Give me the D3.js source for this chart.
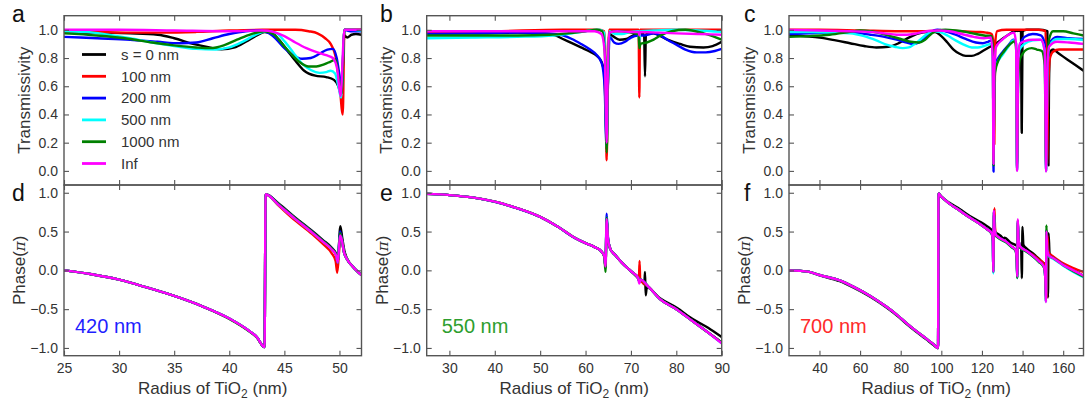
<!DOCTYPE html>
<html><head><meta charset="utf-8">
<script src="https://cdn.jsdelivr.net/npm/d3@7"></script>
<style>body{margin:0;background:#fff} text{font-family:"Liberation Sans",Arial,sans-serif}</style>
</head><body><svg id="c" width="1086" height="405"></svg>
<script>
// ---------- DATA ----------
const seriesNames = ["s = 0 nm","100 nm","200 nm","500 nm","1000 nm","Inf"];
const wavelengthLabels = ["420 nm","550 nm","700 nm"];
const xTicksA = [25,30,35,40,45,50];
const xTicksB = [30,40,50,60,70,80,90];
const xTicksC = [40,60,80,100,120,140,160];
const transTicks = [0,0.2,0.4,0.6,0.8,1.0];
const phaseTicks = [-1,-0.5,0,0.5,1];

// Panel a: transmissivity, 420 nm
const aK = [[25,0.98],[28,0.98],[31,0.975],[33.5,0.965],[35,0.94],[36.7,0.9],[38.2,0.875],[39.3,0.862],[40.5,0.875],[41.5,0.915],[42.5,0.96],[43.2,0.985],[43.8,0.98],[44.5,0.93],[45.3,0.85],[46,0.78],[46.8,0.71],[47.8,0.675],[48.8,0.665],[49.5,0.645],[49.9,0.6],[50.15,0.54],[50.45,0.96],[50.7,0.945],[51.1,0.965],[51.5,0.97],[52,0.965]];
const aR = [[25,0.99],[28,0.985],[31,0.98],[34,0.98],[37,0.985],[40,0.995],[43,1.0],[46,1.0],[47.2,0.99],[48,0.975],[48.7,0.94],[49.2,0.9],[49.7,0.79],[50,0.62],[50.3,0.40],[50.45,1.0],[51,1.0],[52,1.0]];
const aB = [[25,0.95],[28,0.94],[31,0.93],[33.5,0.915],[35.5,0.905],[37,0.91],[38.5,0.94],[40,0.97],[41.5,0.99],[42.8,0.995],[43.6,0.975],[44.3,0.93],[45,0.87],[45.8,0.82],[46.6,0.795],[47.4,0.8],[48.2,0.83],[48.9,0.86],[49.4,0.865],[49.75,0.8],[50,0.68],[50.2,0.58],[50.45,1.0],[51,0.99],[52,0.99]];
const aC = [[25,0.99],[27,0.985],[29,0.965],[31,0.94],[33,0.91],[35,0.885],[37,0.865],[38.8,0.86],[40,0.875],[41.2,0.915],[42.3,0.96],[43.3,0.99],[44.2,0.98],[45,0.92],[45.8,0.84],[46.6,0.76],[47.4,0.715],[48.2,0.695],[48.8,0.7],[49.2,0.71],[49.6,0.69],[49.9,0.6],[50.15,0.52],[50.45,1.0],[51,1.0],[52,0.995]];
const aG = [[25,0.975],[28,0.96],[31,0.935],[33,0.91],[35,0.89],[37,0.875],[38.3,0.87],[39.5,0.89],[40.7,0.93],[42,0.97],[43.2,0.99],[44,0.97],[44.8,0.9],[45.6,0.83],[46.4,0.77],[47.2,0.74],[47.9,0.74],[48.6,0.755],[49.2,0.775],[49.65,0.79],[49.9,0.68],[50.2,0.55],[50.45,1.0],[51,1.0],[52,1.0]];
const aM = [[25,1.0],[30,1.0],[35,0.995],[40,0.99],[43,0.995],[44,0.985],[45,0.955],[46,0.91],[47,0.87],[48,0.84],[48.8,0.82],[49.4,0.8],[49.8,0.72],[50.1,0.53],[50.45,1.0],[51,1.0],[52,1.0]];

// Panel b: transmissivity, 550 nm
const bK = [[25,0.975],[35,0.975],[45,0.98],[51,0.975],[53.3,0.96],[55,0.935],[57,0.905],[59,0.875],[61,0.845],[62.5,0.815],[63.5,0.775],[64.1,0.7],[64.45,0.4],[64.65,0.15],[64.85,0.5],[65.2,0.97],[66,0.955],[67.5,0.93],[69,0.935],[70.5,0.96],[72,0.97],[72.9,0.97],[73.1,0.67],[73.3,0.97],[75,0.975],[76.5,0.955],[78.5,0.925],[80.8,0.9],[83,0.88],[86,0.875],[88,0.885],[90,0.915]];
const bR = [[25,0.985],[40,0.99],[55,1.0],[63,1.0],[64.1,0.99],[64.4,0.8],[64.65,0.075],[64.9,0.6],[65.2,1.0],[70,1.0],[71.7,1.0],[71.85,0.52],[72.0,1.0],[80,1.0],[90,1.0]];
const bB = [[25,0.97],[35,0.975],[45,0.98],[52,0.975],[55,0.96],[57,0.935],[59,0.9],[61,0.86],[62.5,0.82],[63.6,0.76],[64.2,0.6],[64.6,0.18],[64.85,0.5],[65.3,0.95],[66.3,0.91],[67.3,0.9],[68.7,0.915],[70,0.945],[71.5,0.96],[73,0.96],[75,0.975],[76.5,0.96],[78,0.93],[80,0.895],[82,0.86],[84.5,0.84],[86.5,0.84],[88.5,0.85],[90,0.865]];
const bC = [[25,0.94],[35,0.945],[45,0.95],[53,0.96],[57,0.975],[60,0.99],[63,1.0],[64.1,0.98],[64.4,0.7],[64.65,0.17],[64.9,0.6],[65.3,0.99],[66.5,0.97],[68,0.97],[70,0.985],[71.7,0.99],[71.85,0.9],[72,0.99],[75,0.995],[80,1.0],[85,0.995],[90,0.985]];
const bG = [[25,0.96],[35,0.96],[45,0.96],[52,0.965],[56,0.975],[60,0.99],[62.5,1.0],[63.7,0.99],[64.3,0.8],[64.65,0.13],[64.9,0.6],[65.3,0.98],[66.5,0.99],[68,0.99],[70,0.98],[71.7,0.97],[71.85,0.87],[72.1,0.9],[73.5,0.91],[75,0.93],[76.5,0.96],[79,0.99],[82,1.0],[86,0.975],[88,0.955],[90,0.93]];
const bM = [[25,0.99],[40,0.99],[55,0.99],[62,0.99],[63.5,0.97],[64.2,0.85],[64.5,0.4],[64.65,0.2],[64.85,0.6],[65.2,0.98],[67,0.99],[70,0.985],[71.7,0.985],[71.85,0.96],[72,0.985],[76,0.98],[80,0.975],[85,0.97],[90,0.965]];

// Panel c: transmissivity, 700 nm
const cK = [[25,0.965],[32,0.955],[40,0.945],[48,0.925],[55,0.905],[62,0.885],[68,0.875],[74,0.88],[79,0.905],[84,0.945],[89,0.975],[93,0.985],[97,0.985],[100,0.955],[103,0.91],[106,0.86],[109,0.83],[112,0.815],[115,0.815],[118,0.83],[121,0.855],[124,0.88],[127,0.905],[130,0.935],[133,0.965],[136,0.99],[139.2,0.995],[139.6,0.27],[140.0,0.99],[142,1.0],[148,1.0],[152.2,0.99],[152.45,0.5],[152.75,0.04],[153.0,0.6],[153.5,0.84],[155,0.86],[158,0.83],[162,0.79],[166,0.75],[170,0.71]];
const cR = [[25,1.0],[40,1.0],[60,0.995],[80,0.99],[90,0.99],[100,0.995],[110,0.99],[118,0.985],[122,0.98],[124.8,0.97],[125.7,0.9],[126.1,0.19],[126.5,0.9],[127.5,0.99],[132,1.0],[140,1.0],[148,1.0],[151.3,0.99],[151.8,0.5],[152.1,0.05],[152.5,0.5],[153.5,0.8],[155,0.845],[158,0.86],[170,0.86]];
const cB = [[25,0.97],[35,0.975],[45,0.98],[55,0.98],[65,0.965],[72,0.95],[78,0.93],[83,0.91],[86,0.9],[89,0.91],[92,0.945],[95,0.985],[98,1.0],[102,0.99],[107,0.965],[112,0.935],[117,0.91],[120.5,0.905],[123,0.915],[124.8,0.925],[125.4,0.85],[125.7,-0.005],[126.0,0.6],[126.5,0.75],[128,0.8],[130,0.84],[133,0.89],[135.5,0.93],[136.8,0.9],[137.3,0.005],[137.8,0.7],[138.5,0.88],[141,0.95],[145,0.97],[149,0.96],[150.9,0.9],[151.6,0.0],[152.2,0.7],[153,0.9],[157,0.95],[163,0.94],[170,0.935]];
const cC = [[25,0.985],[35,0.985],[45,0.98],[55,0.975],[62,0.955],[68,0.925],[73,0.895],[77,0.88],[81,0.87],[84,0.875],[87,0.9],[90,0.935],[93,0.97],[96,0.99],[99,0.985],[103,0.96],[107,0.925],[111,0.895],[115,0.875],[118,0.875],[121,0.885],[124.8,0.9],[125.4,0.8],[125.7,0.05],[126.0,0.55],[126.5,0.72],[128,0.78],[130,0.82],[133,0.88],[135.5,0.925],[136.8,0.9],[137.3,0.01],[137.8,0.7],[138.5,0.86],[141,0.9],[145,0.925],[149,0.93],[150.9,0.85],[151.6,0.0],[152.2,0.65],[153,0.88],[157,0.935],[163,0.935],[170,0.93]];
const cG = [[25,0.95],[35,0.955],[45,0.965],[55,0.985],[60,0.995],[65,0.99],[70,0.975],[75,0.955],[80,0.935],[85,0.915],[89,0.91],[92,0.93],[95,0.97],[98,0.995],[102,1.0],[107,0.995],[112,0.985],[117,0.97],[121,0.96],[124.8,0.955],[125.4,0.85],[125.7,0.04],[126.0,0.5],[126.5,0.7],[128,0.78],[131,0.85],[134,0.9],[136.2,0.92],[136.9,0.85],[137.3,0.02],[137.8,0.6],[138.5,0.78],[140,0.83],[142,0.86],[144.5,0.87],[147,0.86],[149.5,0.85],[150.9,0.75],[151.6,0.01],[152.2,0.7],[153,0.93],[155,0.99],[160,0.99],[165,0.975],[170,0.96]];
const cM = [[25,1.0],[40,0.995],[55,0.99],[65,0.985],[72,0.975],[78,0.965],[83,0.965],[88,0.975],[93,0.99],[98,0.995],[104,0.99],[110,0.97],[116,0.95],[121,0.94],[124.4,0.945],[125.3,0.8],[125.7,0.05],[126.1,0.7],[127,0.88],[130,0.93],[133,0.965],[135.8,0.98],[136.8,0.9],[137.3,0.0],[137.8,0.75],[138.6,0.9],[141,0.92],[145,0.93],[149,0.93],[150.9,0.85],[151.6,-0.005],[152.2,0.7],[153,0.88],[157,0.915],[163,0.91],[170,0.9]];

// Panel d: phase, 420 nm
const dK = [[25,0],[27.5,-0.05],[30,-0.12],[32.5,-0.22],[35,-0.33],[37.5,-0.46],[40,-0.62],[41.5,-0.75],[42.5,-0.86],[43.2,-0.99],[43.3,0.98],[44.5,0.86],[46,0.68],[47.5,0.51],[48.5,0.39],[49.3,0.29],[49.7,0.21],[49.85,0.12],[50.08,0.57],[50.25,0.42],[50.45,0.25],[50.7,0.15],[51.2,0.05],[51.6,-0.01],[52,-0.06]];
const dR = [[25,0],[27.5,-0.05],[30,-0.12],[32.5,-0.22],[35,-0.33],[37.5,-0.46],[40,-0.62],[41.5,-0.75],[42.5,-0.86],[43.2,-0.99],[43.3,0.98],[44.5,0.83],[46,0.64],[47.5,0.47],[48.5,0.34],[49.3,0.22],[49.65,0.12],[49.8,-0.03],[50.0,0.3],[50.15,0.42],[50.4,0.24],[50.7,0.14],[51.2,0.05],[51.6,-0.01],[52,-0.06]];
const dB = [[25,0],[27.5,-0.05],[30,-0.12],[32.5,-0.22],[35,-0.33],[37.5,-0.46],[40,-0.62],[41.5,-0.75],[42.5,-0.86],[43.2,-0.99],[43.3,0.98],[44.5,0.85],[46,0.67],[47.5,0.5],[48.5,0.38],[49.3,0.28],[49.7,0.2],[49.85,0.1],[50.05,0.5],[50.2,0.41],[50.4,0.24],[50.7,0.14],[51.2,0.05],[51.6,-0.01],[52,-0.06]];
const dC = [[25,0],[27.5,-0.05],[30,-0.12],[32.5,-0.22],[35,-0.33],[37.5,-0.46],[40,-0.62],[41.5,-0.75],[42.5,-0.86],[43.2,-0.99],[43.3,0.98],[44.5,0.84],[46,0.66],[47.5,0.49],[48.5,0.37],[49.3,0.27],[49.7,0.19],[49.85,0.1],[50.05,0.46],[50.2,0.4],[50.4,0.24],[50.7,0.14],[51.2,0.05],[51.6,-0.01],[52,-0.06]];
const dG = [[25,0],[27.5,-0.05],[30,-0.12],[32.5,-0.22],[35,-0.33],[37.5,-0.46],[40,-0.625],[41.5,-0.755],[42.5,-0.865],[43.2,-0.99],[43.3,0.98],[44.5,0.85],[46,0.67],[47.5,0.5],[48.5,0.38],[49.3,0.28],[49.7,0.2],[49.85,0.1],[50.05,0.48],[50.2,0.41],[50.4,0.24],[50.7,0.14],[51.2,0.05],[51.6,-0.01],[52,-0.06]];
const dM = [[25,0],[27.5,-0.05],[30,-0.12],[32.5,-0.22],[35,-0.33],[37.5,-0.46],[40,-0.62],[41.5,-0.75],[42.5,-0.86],[43.2,-0.99],[43.3,0.98],[44.5,0.84],[46,0.66],[47.5,0.49],[48.5,0.37],[49.3,0.27],[49.7,0.19],[49.85,0.1],[50.05,0.45],[50.2,0.4],[50.4,0.24],[50.7,0.14],[51.2,0.05],[51.6,-0.01],[52,-0.06]];

// Panel e: phase, 550 nm
const eK = [[25,0.985],[30,0.97],[35,0.94],[40,0.885],[45,0.8],[50,0.69],[54,0.56],[57.3,0.43],[60,0.35],[62,0.3],[63.4,0.25],[64.15,0.18],[64.4,0.04],[64.65,0.66],[64.95,0.4],[65.5,0.27],[66.5,0.2],[68,0.1],[70,-0.01],[71.6,-0.1],[72.5,-0.14],[72.95,-0.18],[73.1,-0.02],[73.25,-0.32],[73.5,-0.22],[76.4,-0.36],[80,-0.48],[83.7,-0.63],[87,-0.74],[90,-0.86]];
const eR = [[25,0.985],[30,0.97],[35,0.94],[40,0.885],[45,0.8],[50,0.69],[54,0.56],[57.3,0.43],[60,0.35],[62,0.3],[63.4,0.25],[64.15,0.18],[64.4,0.03],[64.65,0.66],[64.95,0.4],[65.5,0.27],[66.5,0.2],[68,0.1],[70,-0.01],[71.6,-0.1],[71.75,-0.13],[71.9,0.12],[72.05,-0.13],[72.4,-0.15],[74,-0.22],[76.4,-0.37],[80,-0.5],[83.7,-0.66],[87,-0.8],[90,-0.93]];
const eB = [[25,0.985],[30,0.97],[35,0.94],[40,0.883],[45,0.798],[50,0.688],[54,0.558],[57.3,0.428],[60,0.35],[62,0.3],[63.4,0.25],[64.15,0.18],[64.4,0.05],[64.65,0.73],[64.95,0.42],[65.5,0.27],[66.5,0.2],[68,0.1],[70,-0.01],[71.6,-0.1],[71.85,-0.15],[72.1,-0.12],[74,-0.22],[76.4,-0.37],[80,-0.5],[83.7,-0.66],[87,-0.8],[90,-0.93]];
const eC = [[25,0.985],[30,0.97],[35,0.94],[40,0.885],[45,0.8],[50,0.69],[54,0.56],[57.3,0.43],[60,0.35],[62,0.3],[63.4,0.25],[64.15,0.18],[64.4,0.03],[64.65,0.68],[64.95,0.4],[65.5,0.27],[66.5,0.2],[68,0.1],[70,-0.01],[71.6,-0.1],[71.85,-0.14],[72.1,-0.12],[74,-0.22],[76.4,-0.37],[80,-0.5],[83.7,-0.66],[87,-0.8],[90,-0.94]];
const eG = [[25,0.985],[30,0.97],[35,0.94],[40,0.885],[45,0.8],[50,0.69],[54,0.56],[57.3,0.43],[60,0.35],[62,0.3],[63.4,0.25],[64.15,0.17],[64.4,-0.02],[64.65,0.68],[64.95,0.4],[65.5,0.27],[66.5,0.2],[68,0.1],[70,-0.01],[71.6,-0.1],[71.85,-0.14],[72.1,-0.12],[74,-0.22],[76.4,-0.37],[80,-0.5],[83.7,-0.66],[87,-0.8],[90,-0.93]];
const eM = [[25,0.985],[30,0.97],[35,0.94],[40,0.885],[45,0.8],[50,0.69],[54,0.56],[57.3,0.43],[60,0.35],[62,0.3],[63.4,0.25],[64.15,0.18],[64.4,0.05],[64.65,0.66],[64.95,0.4],[65.5,0.27],[66.5,0.2],[68,0.1],[70,-0.01],[71.6,-0.1],[71.85,-0.17],[72.1,-0.12],[74,-0.22],[76.4,-0.37],[80,-0.5],[83.7,-0.66],[87,-0.8],[90,-0.94]];

// Panel f: phase, 700 nm
const fK = [[25,0],[30,-0.005],[35,-0.02],[40,-0.065],[50,-0.14],[56.6,-0.22],[65,-0.34],[73,-0.48],[78,-0.58],[82.8,-0.69],[88,-0.8],[92.6,-0.89],[96,-0.96],[98.4,-1.0],[98.6,0.99],[100,0.95],[104,0.87],[109,0.79],[114,0.7],[118.8,0.63],[122.5,0.57],[126,0.5],[129,0.45],[130.8,0.41],[131.2,0.42],[134,0.36],[137,0.32],[139.3,0.28],[139.65,-0.1],[139.95,0.56],[140.4,0.33],[142,0.28],[145,0.22],[148,0.15],[150.5,0.09],[152.2,0.04],[152.5,-0.35],[152.8,0.48],[153.3,0.22],[155,0.17],[160,0.07],[165,0.0],[170,-0.07]];
const fR = [[25,0],[30,-0.005],[35,-0.02],[40,-0.06],[50,-0.13],[56.6,-0.21],[65,-0.33],[73,-0.47],[78,-0.57],[82.8,-0.68],[88,-0.79],[92.6,-0.88],[96,-0.95],[98.4,-1.0],[98.6,0.99],[100,0.95],[104,0.86],[109,0.77],[114,0.68],[118.8,0.6],[122.5,0.53],[124.8,0.48],[125.6,0.42],[125.9,0.35],[126.15,0.8],[126.45,0.55],[127,0.46],[128,0.43],[131.9,0.37],[134.5,0.31],[136.6,0.26],[137.15,0.12],[137.4,-0.06],[137.65,0.64],[138.0,0.4],[139,0.3],[142,0.25],[145,0.2],[148,0.14],[150.5,0.08],[151.6,-0.05],[151.9,-0.35],[152.2,0.45],[152.6,0.28],[153,0.22],[155,0.18],[160,0.09],[165,0.03],[170,-0.02]];
const fB = [[25,0],[30,-0.005],[35,-0.02],[40,-0.06],[50,-0.13],[56.6,-0.21],[65,-0.33],[73,-0.47],[78,-0.57],[82.8,-0.68],[88,-0.79],[92.6,-0.88],[96,-0.95],[98.4,-1.0],[98.6,0.99],[100,0.95],[104,0.86],[109,0.77],[114,0.68],[118.8,0.6],[122.5,0.53],[124.8,0.48],[125.35,0.38],[125.6,-0.03],[125.85,0.76],[126.2,0.55],[126.8,0.46],[128,0.43],[131.9,0.37],[134.5,0.31],[136.6,0.26],[137.15,0.12],[137.4,-0.09],[137.65,0.64],[138.0,0.4],[139,0.3],[142,0.25],[145,0.19],[148,0.12],[150.5,0.05],[151.2,-0.1],[151.5,-0.4],[151.75,0.52],[152.1,0.27],[153,0.19],[155,0.16],[160,0.07],[165,-0.01],[170,-0.08]];
const fC = [[25,0],[30,-0.005],[35,-0.02],[40,-0.06],[50,-0.13],[56.6,-0.21],[65,-0.33],[73,-0.47],[78,-0.57],[82.8,-0.68],[88,-0.79],[92.6,-0.88],[96,-0.95],[98.4,-1.0],[98.6,0.99],[100,0.95],[104,0.86],[109,0.77],[114,0.68],[118.8,0.6],[122.5,0.53],[124.8,0.47],[125.35,0.37],[125.6,-0.04],[125.85,0.75],[126.2,0.55],[126.8,0.45],[128,0.42],[131.9,0.36],[134.5,0.3],[136.6,0.25],[137.15,0.1],[137.4,-0.1],[137.65,0.63],[138.0,0.39],[139,0.29],[142,0.24],[145,0.18],[148,0.11],[150.5,0.04],[151.2,-0.1],[151.5,-0.4],[151.75,0.5],[152.1,0.26],[153,0.18],[155,0.15],[160,0.06],[165,-0.02],[170,-0.09]];
const fG = [[25,0],[30,-0.005],[35,-0.02],[40,-0.06],[50,-0.13],[56.6,-0.21],[65,-0.33],[73,-0.47],[78,-0.57],[82.8,-0.68],[88,-0.79],[92.6,-0.88],[96,-0.95],[98.4,-1.0],[98.6,0.99],[100,0.95],[104,0.86],[109,0.77],[114,0.68],[118.8,0.6],[122.5,0.53],[124.8,0.47],[125.35,0.38],[125.6,-0.02],[125.85,0.75],[126.2,0.55],[126.8,0.45],[128,0.42],[131.9,0.36],[134.5,0.3],[136.6,0.25],[137.15,0.1],[137.4,-0.1],[137.65,0.62],[138.0,0.39],[139,0.29],[142,0.24],[145,0.18],[148,0.11],[150.5,0.04],[151.2,-0.1],[151.5,-0.38],[151.75,0.58],[152.1,0.27],[153,0.19],[155,0.16],[160,0.07],[165,-0.01],[170,-0.08]];
const fM = [[25,0],[30,-0.005],[35,-0.02],[40,-0.06],[50,-0.13],[56.6,-0.21],[65,-0.33],[73,-0.47],[78,-0.57],[82.8,-0.68],[88,-0.79],[92.6,-0.88],[96,-0.95],[98.4,-1.0],[98.6,0.99],[100,0.95],[104,0.86],[109,0.77],[114,0.68],[118.8,0.6],[122.5,0.53],[124.8,0.48],[125.35,0.38],[125.6,-0.02],[125.85,0.77],[126.2,0.55],[126.8,0.46],[128,0.43],[131.9,0.37],[134.5,0.31],[136.6,0.26],[137.15,0.12],[137.4,-0.08],[137.65,0.66],[138.0,0.4],[139,0.3],[142,0.25],[145,0.19],[148,0.12],[150.5,0.05],[151.2,-0.1],[151.5,-0.41],[151.75,0.5],[152.1,0.27],[153,0.19],[155,0.16],[160,0.07],[165,0.0],[170,-0.07]];

// ---------- STYLE / LAYOUT ----------
const colors = ["#000000","#ff0000","#0000ff","#00ffff","#008000","#ff00ff"];
const wlColors = ["#1f1fff","#2e9e2e","#ff2a2a"];
const frameColor = "#555";
const textColor = "#333";

const svg = d3.select("#c");
const defs = svg.append("defs");
const cols = [{x0:64,x1:361.5},{x0:426.7,x1:721.7},{x0:789,x1:1083.5}];
const rows = [{y0:15.7,y1:185},{y0:185,y1:355.7}];
const xDomains = [[25,52],[25,90],[25,170]];
const xTickSets = [xTicksA,xTicksB,xTicksC];
const transSets = [[aK,aR,aB,aC,aG,aM],[bK,bR,bB,bC,bG,bM],[cK,cR,cB,cC,cG,cM]];
const phaseSets = [[dK,dR,dB,dC,dG,dM],[eK,eR,eB,eC,eG,eM],[fK,fR,fB,fC,fG,fM]];
const letters = [["a","d"],["b","e"],["c","f"]];
const letterX = [12,380,744];
const fmt = d3.format(".1f");

function styleAxis(g){
  g.select(".domain").remove();
  g.selectAll(".tick line").attr("stroke",frameColor).attr("stroke-width",1.1);
  g.selectAll(".tick text").attr("fill",textColor).attr("font-size",14).attr("font-family",'"Liberation Sans",Arial,sans-serif');
}

cols.forEach((c,ci)=>{
  const x = d3.scaleLinear().domain(xDomains[ci]).range([c.x0,c.x1]);
  [0,1].forEach(ri=>{
    const r = rows[ri];
    const y = d3.scaleLinear().domain(ri===0?[-0.1,1.1]:[-1.1,1.1]).range([r.y1,r.y0]);
    const id = "clip"+ci+ri;
    defs.append("clipPath").attr("id",id).append("rect")
      .attr("x",c.x0).attr("y",r.y0).attr("width",c.x1-c.x0).attr("height",r.y1-r.y0);
    const sets = ri===0?transSets[ci]:phaseSets[ci];
    const line = d3.line().x(d=>x(d[0])).y(d=>y(d[1])).curve(d3.curveMonotoneX);
    const lg = svg.append("g").attr("clip-path","url(#"+id+")");
    sets.forEach((s,si)=>{
      lg.append("path").attr("d",line(s)).attr("fill","none")
        .attr("stroke",colors[si]).attr("stroke-width",2.4)
        .attr("stroke-linejoin","round").attr("stroke-linecap","butt");
    });
    const yTicks = ri===0?transTicks:phaseTicks;
    svg.append("g").attr("transform",`translate(${c.x0},0)`)
      .call(d3.axisLeft(y).tickValues(yTicks).tickSize(-5).tickPadding(6).tickFormat(fmt)).call(styleAxis);
    svg.append("g").attr("transform",`translate(${c.x1},0)`)
      .call(d3.axisRight(y).tickValues(yTicks).tickSize(-5).tickFormat("")).call(styleAxis);
    svg.append("g").attr("transform",`translate(0,${r.y0})`)
      .call(d3.axisTop(x).tickValues(xTickSets[ci]).tickSize(-5).tickFormat("")).call(styleAxis);
    svg.append("g").attr("transform",`translate(0,${r.y1})`)
      .call(d3.axisBottom(x).tickValues(xTickSets[ci]).tickSize(-5).tickPadding(7)
        .tickFormat(ri===1?d3.format("d"):"")).call(styleAxis);
    svg.append("rect").attr("x",c.x0).attr("y",r.y0).attr("width",c.x1-c.x0).attr("height",r.y1-r.y0)
      .attr("fill","none").attr("stroke",frameColor).attr("stroke-width",1.4);

    // y-axis title
    const cy = (r.y0+r.y1)/2;
    if(ri===0){
      svg.append("text").attr("transform",`translate(${c.x0-34.5},${cy}) rotate(-90)`)
        .attr("text-anchor","middle").attr("font-size",17).attr("fill",textColor).text("Transmissivity");
    } else {
      const t = svg.append("text").attr("transform",`translate(${c.x0-39},${cy}) rotate(-90)`)
        .attr("text-anchor","middle").attr("font-size",17).attr("fill",textColor);
      t.append("tspan").text("Phase(");
      t.append("tspan").attr("font-style","italic").attr("font-family",'"DejaVu Serif",serif').attr("font-size",15).text("π");
      t.append("tspan").text(")");
      // x-axis title
      const xt = svg.append("text").attr("x",(c.x0+c.x1)/2).attr("y",394)
        .attr("text-anchor","middle").attr("font-size",17).attr("fill",textColor);
      xt.append("tspan").text("Radius of TiO");
      xt.append("tspan").attr("font-size",12).attr("dy",4).text("2");
      xt.append("tspan").attr("dy",-4).text(" (nm)");
      // wavelength label
      svg.append("text").attr("x",c.x0+(ci===1?15:11)).attr("y",333)
        .attr("font-size",20).attr("fill",wlColors[ci]).text(wavelengthLabels[ci]);
    }
    // panel letter
    svg.append("text").attr("x",letterX[ci]).attr("y",ri===0?22:201)
      .attr("font-size",23).attr("fill","#111").text(letters[ci][ri]);
  });
});

// legend in panel a
const leg = svg.append("g");
seriesNames.forEach((n,i)=>{
  const ly = 54.5 + i*21.8;
  leg.append("line").attr("x1",82).attr("x2",106).attr("y1",ly).attr("y2",ly)
    .attr("stroke",colors[i]).attr("stroke-width",2.8);
  leg.append("text").attr("x",121).attr("y",ly+5.3).attr("font-size",15).attr("fill",textColor).text(n);
});
</script>
</body></html>
